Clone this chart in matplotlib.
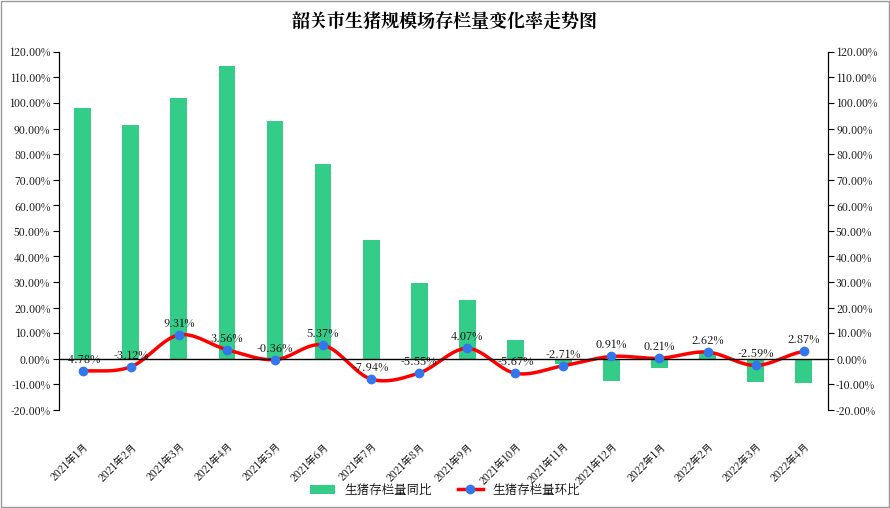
import numpy as np
import matplotlib
matplotlib.use("Agg")
import matplotlib.pyplot as plt
from matplotlib import font_manager
from matplotlib.ticker import FuncFormatter

cjk = [f.name for f in font_manager.fontManager.ttflist if 'CJK' in f.name]
pref = [n for n in cjk if n.endswith('SC')] or cjk
plt.rcParams['font.family'] = (pref[:1] if pref else []) + ['DejaVu Sans']

months = ["2021年1月","2021年2月","2021年3月","2021年4月","2021年5月","2021年6月","2021年7月","2021年8月",
          "2021年9月","2021年10月","2021年11月","2021年12月","2022年1月","2022年2月","2022年3月","2022年4月"]
yoy = [98, 91.5, 102, 114.5, 93, 76, 46.5, 29.5, 23, 7.5, -2.2, -8.5, -3.5, 2.8, -9, -9.5]
mom = [-4.78, -3.12, 9.31, 3.56, -0.36, 5.37, -7.94, -5.55, 4.07, -5.67, -2.71, 0.91, 0.21, 2.62, -2.59, 2.87]

fig = plt.figure(figsize=(8.9, 5.08), dpi=100)
ax = fig.add_axes([0.066, 0.193, 0.864, 0.705])
x = np.arange(len(months))
hb = ax.bar(x, yoy, width=0.35, color='#33cc88', label='生猪存栏量同比', zorder=2)

# Catmull-Rom smoothing for drawing the line
m = np.array(mom, float)
px, py = [], []
for i in range(len(m) - 1):
    p0 = m[max(i-1, 0)]; p1 = m[i]; p2 = m[i+1]; p3 = m[min(i+2, len(m)-1)]
    t = np.linspace(0, 1, 20, endpoint=False)
    yv = 0.5*((2*p1) + (-p0+p2)*t + (2*p0-5*p1+4*p2-p3)*t**2 + (-p0+3*p1-3*p2+p3)*t**3)
    px.extend(i + t); py.extend(yv)
px.append(len(m)-1); py.append(m[-1])
ax.plot(px, py, color='red', lw=2.5, zorder=3)
ax.plot(x, m, 'o', color='#3377ee', ms=6, zorder=4)
hl, = ax.plot([], [], '-o', color='red', mfc='#3377ee', mec='#3377ee', lw=2.5, label='生猪存栏量环比')
for xi, v in zip(x, mom):
    ax.text(xi, v + 2.2, f"{v:.2f}%", ha='center', va='bottom', fontsize=8, zorder=5)

ax.set_xlim(-0.5, len(months) - 0.5)
ax.set_ylim(-20, 120)
ax.set_yticks(np.arange(-20, 121, 10))
fmt = FuncFormatter(lambda v, p: f"{v:.2f}%")
ax.yaxis.set_major_formatter(fmt)
ax.tick_params(axis='y', labelsize=7.5, length=4, pad=2)
ax.axhline(0, color='black', lw=1, zorder=3)
ax.set_xticks(x)
ax.set_xticklabels(months, rotation=45, ha='right', fontsize=7.5, rotation_mode='anchor')
ax.tick_params(axis='x', length=0, pad=22)
for s in ['top', 'bottom']:
    ax.spines[s].set_visible(False)
ax2 = ax.twinx()
ax2.set_ylim(-20, 120)
ax2.set_yticks(np.arange(-20, 121, 10))
ax2.yaxis.set_major_formatter(fmt)
ax2.tick_params(axis='y', labelsize=7.5, length=4, pad=2)
for s in ['top', 'bottom']:
    ax2.spines[s].set_visible(False)

fig.suptitle("韶关市生猪规模场存栏量变化率走势图", y=0.975, fontsize=13, fontweight='bold')
fig.legend(handles=[hb, hl], loc='lower center', ncol=2, frameon=False, fontsize=9,
           bbox_to_anchor=(0.5, 0.0))
fig.patches.append(plt.Rectangle((0.001, 0.001), 0.998, 0.998, transform=fig.transFigure,
                                 fill=False, edgecolor='#999999', lw=1))
fig.savefig("out.png")
